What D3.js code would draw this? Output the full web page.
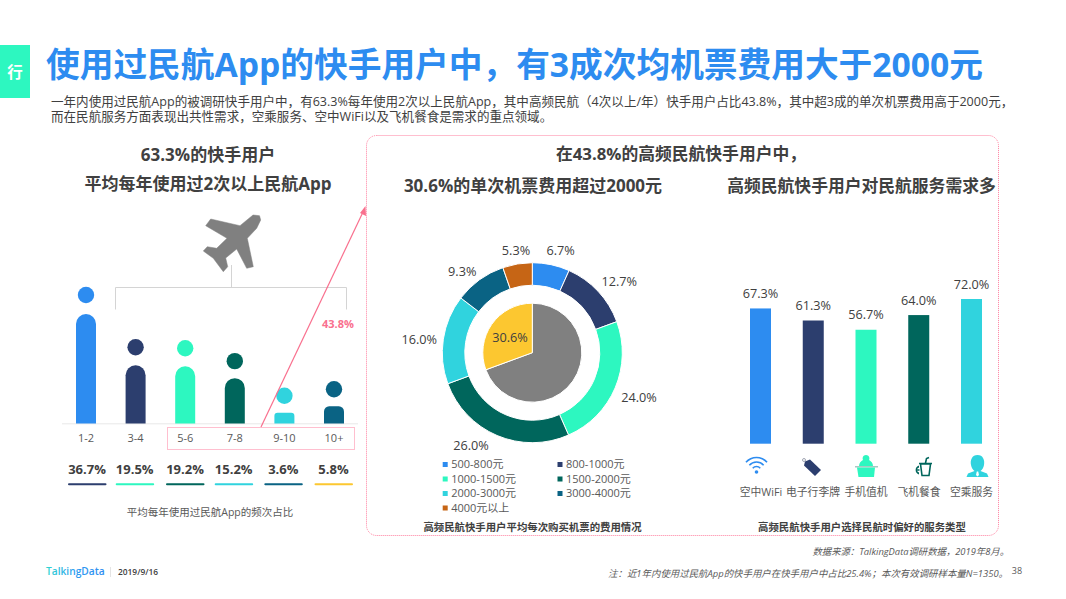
<!DOCTYPE html>
<html><head><meta charset="utf-8">
<script src="https://cdn.jsdelivr.net/npm/d3@7"></script>
<style>html,body{margin:0;padding:0;background:#fff}svg{display:block}
text{font-family:"Open Sans","Noto Sans CJK SC",sans-serif}</style></head><body>
<svg id="c" width="1066" height="599"></svg>
<script>
const freqLabels=["1-2","3-4","5-6","7-8","9-10","10+"];
const freqValues=[36.7,19.5,19.2,15.2,3.6,5.8];
const freqColors=["#2d8cf0","#2c3e6e","#2df7c0","#00665c","#30d3de","#0a6384"];
const shareValues=[36.7,19.5,19.2,15.2,3.6,5.8];
const underlineColors=["#2c3e6e","#2df7c0","#00665c","#30d3de","#0a6384","#fcc730"];
const priceLabels=["500-800元","800-1000元","1000-1500元","1500-2000元","2000-3000元","3000-4000元","4000元以上"];
const priceValues=[6.7,12.7,24.0,26.0,16.0,9.3,5.3];
const priceColors=["#2d8cf0","#2c3e6e","#2df7c0","#00665c","#30d3de","#0a6384","#c66515"];
const innerValues=[69.4,30.6];
const innerColors=["#808080","#fcc730"];
const serviceLabels=["空中WiFi","电子行李牌","手机值机","飞机餐食","空乘服务"];
const serviceValues=[67.3,61.3,56.7,64.0,72.0];
const serviceColors=["#2d8cf0","#2c3e6e","#2df7c0","#00665c","#30d3de"];

const svg=d3.select("#c");
const T=(x,y,s,size,fill,opt={})=>svg.append("text").attr("x",x).attr("y",y).text(s)
  .attr("font-size",size).attr("fill",fill).attr("text-anchor",opt.a||"middle")
  .attr("font-weight",opt.w||400).attr("font-style",opt.i?"italic":null);

// header
svg.append("rect").attr("x",0).attr("y",45).attr("width",30).attr("height",53).attr("fill","#2df7c0");
T(15,78,"行",15.5,"#fff",{w:700});
T(46,76.5,"使用过民航App的快手用户中，有3成次均机票费用大于2000元",33.7,"#2d8cf0",{a:"start",w:700});
T(51,105.5,"一年内使用过民航App的被调研快手用户中，有63.3%每年使用2次以上民航App，其中高频民航（4次以上/年）快手用户占比43.8%，其中超3成的单次机票费用高于2000元，",12.56,"#404040",{a:"start"});
T(51,120.5,"而在民航服务方面表现出共性需求，空乘服务、空中WiFi以及飞机餐食是需求的重点领域。",12.56,"#404040",{a:"start"});

// section titles
T(208,160.5,"63.3%的快手用户",17,"#404040",{w:700});
T(208,189.5,"平均每年使用过2次以上民航App",17,"#404040",{w:700});
T(681,159.5,"在43.8%的高频民航快手用户中，",16.8,"#404040",{w:700});
T(533,191.5,"30.6%的单次机票费用超过2000元",17,"#404040",{w:700});
T(861.5,191.5,"高频民航快手用户对民航服务需求多",16.8,"#404040",{w:700});

// pink frame
const dotted="#ff7f9f";
svg.append("rect").attr("x",366.5).attr("y",135.5).attr("width",632).attr("height",400).attr("rx",10)
  .attr("fill","none").attr("stroke",dotted).attr("stroke-width",1).attr("stroke-dasharray","1 1");

// left chart
const base=423.5;
const x1=d3.scalePoint().domain(freqLabels).range([86,334]);
const y1=d3.scaleLinear().domain([0,36.7]).range([base,314]);
svg.append("line").attr("x1",62).attr("x2",358).attr("y1",base+.3).attr("y2",base+.3).attr("stroke","#e8e8e8");
freqLabels.forEach((l,i)=>{
  const X=x1(l),Y=y1(freqValues[i]),h=base-Y,r=h<20?h*0.3:10;
  svg.append("path").attr("fill",freqColors[i])
    .attr("d",`M${X-10},${base}V${Y+r}A${r},${r} 0 0 1 ${X-10+r},${Y}H${X+10-r}A${r},${r} 0 0 1 ${X+10},${Y+r}V${base}Z`);
  svg.append("circle").attr("cx",X).attr("cy",Y-(i==0?19:i<3?18:17)).attr("r",8.2).attr("fill",freqColors[i]);
  T(X,442,l,11,"#595959");
  const lx=[87,134.7,185,233.7,283.3,333.5][i];
  T(lx,474,shareValues[i].toFixed(1)+"%",13,"#404040",{w:700});
  svg.append("line").attr("x1",lx-18).attr("x2",lx+18.5).attr("y1",484.3).attr("y2",484.3)
    .attr("stroke",underlineColors[i]).attr("stroke-width",2).attr("stroke-linecap","round");
});
T(210,516,"平均每年使用过民航App的频次占比",10.5,"#595959");

// bracket
svg.append("path").attr("fill","none").attr("stroke","#d4d4d4").attr("stroke-width",1)
  .attr("d","M115.5,309.5V287.5H346.5V309.5M231.5,287.5V265");
// plane icon
svg.append("path").attr("fill","#808080").attr("stroke","#808080").attr("stroke-width",.5).attr("stroke-linejoin","round")
  .attr("d","M259.5,215.7L253,215L240,225.7L210.7,219L205.7,225.7L227,238.3L216.7,248.3L207.3,246.7L203.3,251L213.3,258.3L223.3,271.7L227.7,266.7L225.7,258L236.7,249L246.7,268.3L253.3,266.7L247.3,238.3L256.7,228.3L260.7,220Z");

// arrow
svg.append("path").attr("fill","none").attr("stroke","#f9708e").attr("stroke-width",1.2).attr("d","M261,427L363.5,211");
svg.append("path").attr("fill","#f9708e").attr("d","M365.5,206L366,216L360,213Z");
T(338,328,"43.8%",11,"#f9708e",{w:700});
svg.append("rect").attr("x",167.5).attr("y",427.5).attr("width",187).attr("height",22)
  .attr("fill","none").attr("stroke",dotted).attr("stroke-dasharray","1 1");

// donut
const cx=532.3,cy=352.7;
const g=svg.append("g").attr("transform",`translate(${cx},${cy})`);
const pie=d3.pie().sort(null).value(d=>d);
const arc=d3.arc().innerRadius(67.5).outerRadius(90);
g.selectAll("path.o").data(pie(priceValues)).join("path").attr("class","o").attr("d",arc)
  .attr("fill",(d,i)=>priceColors[i]).attr("stroke","#fff").attr("stroke-width",1);
const arc2=d3.arc().innerRadius(0).outerRadius(49.5);
g.selectAll("path.i").data(pie(innerValues)).join("path").attr("class","i").attr("d",arc2)
  .attr("fill",(d,i)=>innerColors[i]).attr("stroke","#fff").attr("stroke-width",1);
const labelArc=d3.arc().innerRadius(108).outerRadius(108);
const nudge=[[5.8,3.6],[8,2.7],[7.3,2.7],[-19,-6.4],[-6.2,3.5],[-6.8,6.6],[1.6,4.5]];
pie(priceValues).forEach((d,i)=>{
  const c=labelArc.centroid(d);
  T(cx+c[0]+nudge[i][0],cy+c[1]+nudge[i][1]+4.5,d.data.toFixed(1)+"%",12.7,"#404040");
});
T(510,341.5,innerValues[1].toFixed(1)+"%",12.7,"#404040");
// legend
priceLabels.forEach((l,i)=>{
  const col=i%2,row=Math.floor(i/2);
  const lx=col?557.5:442.7,ly=464+row*14.5;
  svg.append("rect").attr("x",lx).attr("y",ly-2).attr("width",5).attr("height",5).attr("fill",priceColors[i]);
  T(lx+8.5,ly+4,l,11,"#595959",{a:"start"});
});
T(532.5,531,"高频民航快手用户平均每次购买机票的费用情况",10.4,"#404040",{w:700});

// right bars
const base2=443.7;
const x2=d3.scalePoint().domain(serviceLabels).range([760.5,971.5]);
const y2=d3.scaleLinear().domain([0,72]).range([base2,299]);
svg.selectAll("rect.s").data(serviceValues).join("rect").attr("class","s")
  .attr("x",(d,i)=>x2(serviceLabels[i])-10.5).attr("width",21)
  .attr("y",d=>y2(d)).attr("height",d=>base2-y2(d)).attr("fill",(d,i)=>serviceColors[i]);
serviceValues.forEach((v,i)=>{
  T(x2(serviceLabels[i]),y2(v)-10.5,v.toFixed(1)+"%",12.7,"#404040");
  T([761,813,866,919,971.5][i],496,serviceLabels[i],10.8,"#595959");
});
T(862,531,"高频民航快手用户选择民航时偏好的服务类型",10.4,"#404040",{w:700});

// icons
const ic=svg.append("g");
[5,9.5,14].forEach(r=>ic.append("path").attr("fill","#2d8cf0")
  .attr("d",d3.arc().innerRadius(r-.8).outerRadius(r+.8).startAngle(-0.85).endAngle(0.85)()).attr("transform","translate(756.5,471.5)"));
ic.append("circle").attr("cx",756.5).attr("cy",472).attr("r",1.8).attr("fill","#2d8cf0");
ic.append("path").attr("fill","#2c3e6e").attr("d","M805,461.5L810,459.5L821,470L815,476L804,465.5Z");
ic.append("circle").attr("cx",804).attr("cy",460).attr("r",1.5).attr("fill","none").attr("stroke","#8a8fa0").attr("stroke-width",.8);
ic.append("path").attr("fill","#2df7c0").attr("d","M866,455C869,455 870,458 869,460C871,461 873,463 873,466H859C859,463 861,461 863,460C862,458 863,455 866,455Z");
ic.append("rect").attr("x",855).attr("y",466).attr("width",23).attr("height",1.5).attr("fill","#a6c9c2");
ic.append("path").attr("fill","#2df7c0").attr("d","M857,467.5H875L874,477H858.5Z");
ic.append("path").attr("fill","none").attr("stroke","#00665c").attr("stroke-width",1.6).attr("d","M920.5,464L922,475.5H929L930.5,464ZM919,463.5H932M925.5,463L926.5,458.5L929,457.5");
ic.append("path").attr("fill","#00665c").attr("d","M919,465.5A6,5 0 0 0 919,474.5V472.5A4,3 0 0 1 917,470.8H919.5V469.3H917A4,3 0 0 1 919,467.5Z");
ic.append("path").attr("fill","#30d3de").attr("d","M977.5,455C983,455 985,460 984,465C983.5,468 982,470 980.5,471L987,473.5L988.5,477H966.5L968,473.5L974.5,471C973,470 971.5,468 971,465C970,460 972,455 977.5,455Z");
ic.append("path").attr("fill","#fff").attr("d","M976.8,471.5H978.2L979,475L977.5,476.5L976,475Z");

// footer
T(1009,555,"数据来源：TalkingData调研数据，2019年8月。",9.35,"#595959",{a:"end",i:1});
T(1008,577,"注：近1年内使用过民航App的快手用户在快手用户中占比25.4%；本次有效调研样本量N=1350。",9.43,"#595959",{a:"end",i:1});
T(1017,574,"38",9,"#595959");
const grad=svg.append("defs").append("linearGradient").attr("id","lg");
grad.append("stop").attr("offset","0").attr("stop-color","#2fd6d0");
grad.append("stop").attr("offset",".5").attr("stop-color","#2d9cf0");
grad.append("stop").attr("offset","1").attr("stop-color","#2d8cf0");
T(46,575,"TalkingData",10.2,"url(#lg)",{a:"start",w:600});
T(118,575,"2019/9/16",8.4,"#404040",{a:"start",w:600});
svg.append("line").attr("x1",110.5).attr("x2",110.5).attr("y1",567).attr("y2",577).attr("stroke","#e4e4e4");
</script></body></html>
